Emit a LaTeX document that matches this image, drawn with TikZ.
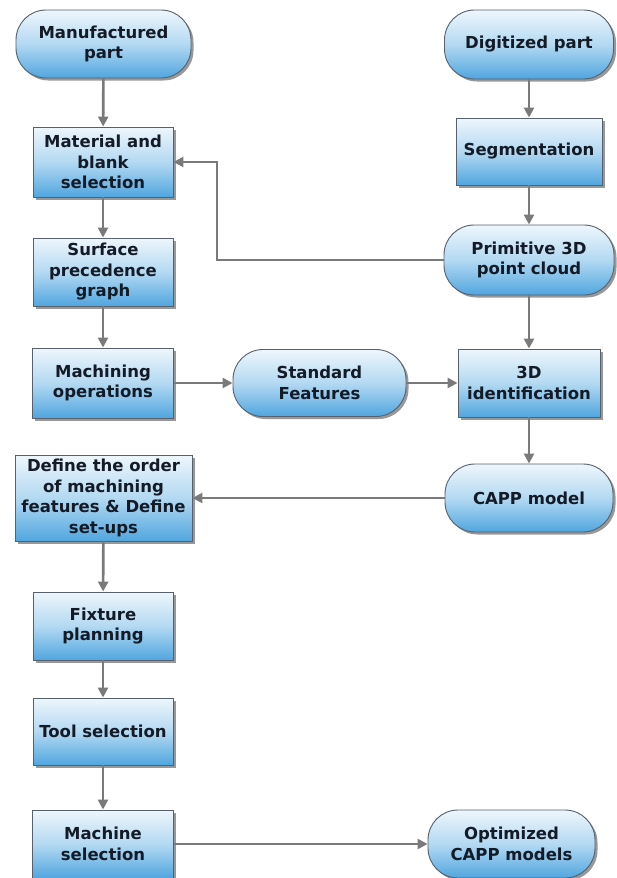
\documentclass[tikz,border=0pt]{standalone}
\usepackage{fontspec}
\setmainfont{DejaVu Sans}
\usetikzlibrary{arrows.meta,shadows}
\definecolor{boxtop}{HTML}{EEF6FC}
\definecolor{boxmid}{HTML}{B3D9F2}
\definecolor{boxbot}{HTML}{50A6DF}
\definecolor{edgec}{HTML}{56616D}
\definecolor{txt}{HTML}{141B26}
\definecolor{arr}{HTML}{7A7A7A}
\tikzset{
  base/.style={draw=edgec, line width=0.9pt,
    top color=boxtop, bottom color=boxbot, middle color=boxmid,
    drop shadow={shadow xshift=2.5pt, shadow yshift=-2.5pt, opacity=0.5, fill=black!80},
    font=\fontsize{16.5}{20.5}\selectfont\bfseries, text=txt, align=center, inner sep=0pt},
  procbox/.style={base, rectangle},
  pill/.style={base, rectangle, rounded corners=30pt},
  flow/.style={draw=arr, line width=2.6pt, -{Triangle[length=10pt,width=10pt]}}
}
\begin{document}
\begin{tikzpicture}[x=1pt,y=-1pt]
\useasboundingbox[fill=white] (0,0) rectangle (617,878);

% left column
\node[pill, minimum width=175pt, minimum height=68pt] (mp) at (103.5,44) {Manufactured\\part};
\node[procbox, minimum width=140pt, minimum height=70pt] (mb) at (103,162) {Material and\\blank\\selection};
\node[procbox, minimum width=140pt, minimum height=68pt] (sp) at (103,272) {Surface\\precedence\\graph};
\node[procbox, minimum width=141pt, minimum height=70pt] (mo) at (103,383) {Machining\\operations};
\node[procbox, minimum width=177pt, minimum height=86pt] (def) at (103.5,498) {Define the order\\of machining\\features \& Define\\set-ups};
\node[procbox, minimum width=140pt, minimum height=68pt] (fp) at (103,626) {Fixture\\planning};
\node[procbox, minimum width=140pt, minimum height=67pt] (ts) at (103,731.5) {Tool selection};
\node[procbox, minimum width=141pt, minimum height=68pt] (ms) at (103,844) {Machine\\selection};

% middle
\node[pill, minimum width=173pt, minimum height=67pt] (sf) at (319.5,383) {Standard\\Features};

% right column
\node[pill, minimum width=169pt, minimum height=69pt] (dp) at (529,44.5) {Digitized part};
\node[procbox, minimum width=146pt, minimum height=67pt] (seg) at (529,151.5) {Segmentation};
\node[pill, minimum width=170pt, minimum height=70pt] (pc) at (529,260) {Primitive 3D\\point cloud};
\node[procbox, minimum width=142pt, minimum height=68pt] (id) at (529,383) {3D\\identification};
\node[pill, minimum width=168pt, minimum height=68pt] (cm) at (529,498) {CAPP model};
\node[pill, minimum width=167pt, minimum height=68pt] (op) at (511.5,844) {Optimized\\CAPP models};

\coordinate (bend) at (217,260);

% connectors
\draw[flow] (mp) -- (mb);
\draw[flow] (mb) -- (sp);
\draw[flow] (sp) -- (mo);
\draw[flow] (mo) -- (sf);
\draw[flow] (sf) -- (id);
\draw[flow] (def) -- (fp);
\draw[flow] (fp) -- (ts);
\draw[flow] (ts) -- (ms);
\draw[flow] (ms) -- (op);
\draw[flow] (dp) -- (seg);
\draw[flow] (seg) -- (pc);
\draw[flow] (pc) -- (id);
\draw[flow] (id) -- (cm);
\draw[flow] (cm) -- (def);
\draw[flow] (pc.west) -- (bend) |- (mb.east);
\end{tikzpicture}
\end{document}
